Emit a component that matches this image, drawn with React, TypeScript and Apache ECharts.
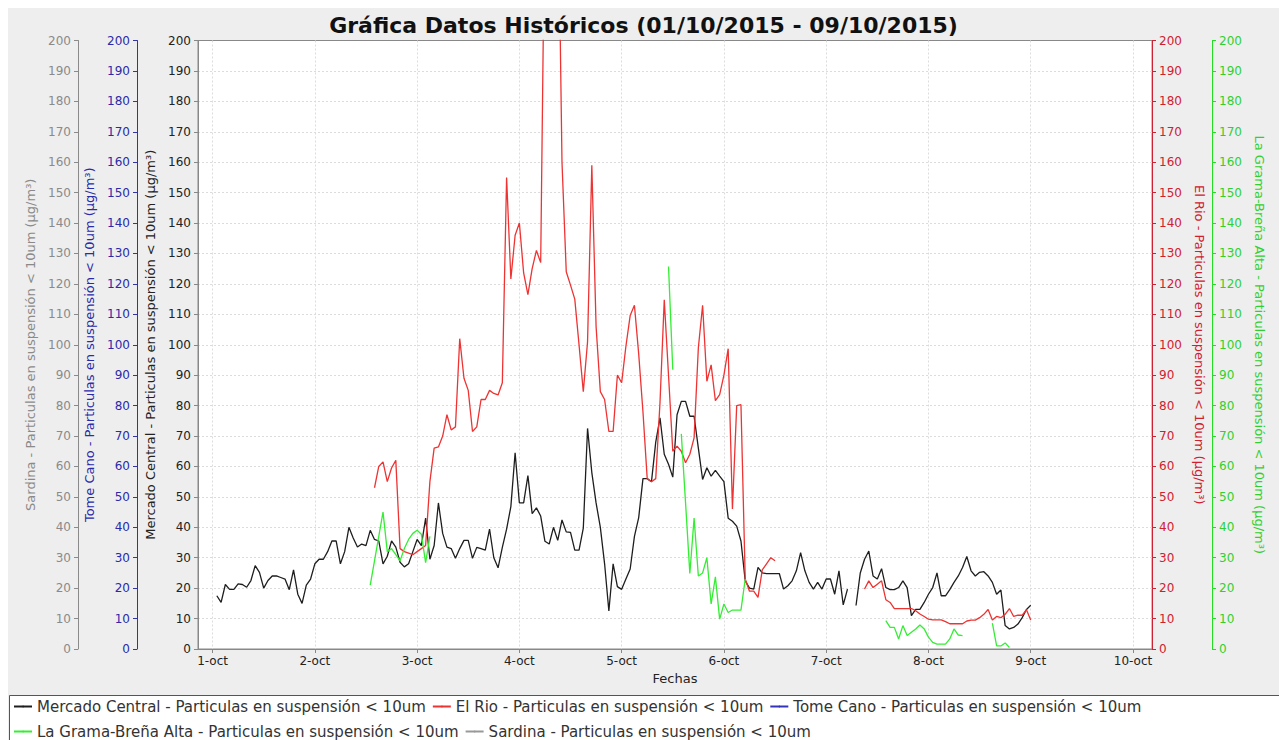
import React, { useEffect, useRef } from "react";
import * as echarts from "echarts";

// ---------- data (hourly values, hour offset from 01/10/2015 00:00) ----------
const HOUR = 3600000;
const BASE = new Date(2015, 9, 1, 0, 0, 0).getTime();
const X_MIN = BASE - 3.42 * HOUR;
const X_MAX = BASE + 9 * 24 * HOUR + 4.46 * HOUR;
const MONTH = "oct";

const titleText = "Gráfica Datos Históricos (01/10/2015 - 09/10/2015)";
const xName = "Fechas";
const suffix = " - Particulas en suspensión < 10um";
const unit = " (µg/m³)";
const stations = ["Mercado Central", "El Rio", "Tome Cano", "La Grama-Breña Alta", "Sardina"];

// Mercado Central
const mercadoAStart = 1;
const mercadoA = [
  17.5, 15.3, 21.2, 19.6, 19.6, 21.4, 21.2, 20.3, 22.5, 27.4,
  25.2, 20, 22.5, 24, 24, 23.5, 23, 19.5, 26, 18,
  15, 21, 23, 28, 29.5, 29.5, 32, 35.5, 35.5, 28,
  32, 40, 36.5, 33.5, 34.5, 34, 39, 36, 35.5, 28,
  30.5, 35.5, 33.5, 28.5, 27, 28, 32, 36, 34, 43,
  29.5, 34, 48, 38, 33.5, 33, 29.8, 33, 35.7, 35.7,
  29.8, 33.4, 33, 32.5, 39.4, 30, 26.7, 33.4, 39.4, 46.8,
  64.5, 48, 48, 57, 44.5, 46.4, 43.7, 35.4, 34.5, 40,
  35.7, 42.4, 38.5, 38.3, 32.5, 32.5, 39.7, 72.5, 58, 48,
  40, 28, 12.5, 28, 20.5, 19.6, 23, 26.3, 37, 43.2,
  56, 56, 55, 68, 76, 64, 60.7, 56.5, 77, 81.4,
  81.4, 76.5, 76.5, 66, 55.7, 59.6, 56.8, 58.7, 56.8, 55,
  43, 42, 40.4, 35.5, 22.4, 20, 19.7, 26.8, 25, 24.8,
  24.8, 24.8, 24.8, 19.7, 20.8, 22.4, 25.7, 31.7, 25.7, 21.9,
  19.7, 21.9, 19.7, 23, 23, 18, 25.7, 14.5, 19.7,
];
const mercadoBStart = 151;
const mercadoB = [
  14.3, 25, 29.5, 32.2, 24, 23, 26.4, 20.2, 19.5, 19.5,
  20.2, 22.4, 20.2, 11, 13, 13, 15.3, 18, 20.2, 25,
  17.5, 17.5, 19.5, 21.9, 24, 26.8, 30.4, 25.7, 24, 25.2,
  25.4, 24, 21.9, 18, 19.4, 7.7, 6.6, 7.1, 8.2, 10.3,
  13, 14.4,
];

// El Rio
const elRioAStart = 38;
const elRioA = [
  53, 60, 61.5, 55, 59.5, 62, 33, 32, 31.5, 31,
  32, 33, 34, 55, 66, 66.4, 70, 77, 72, 73,
  102, 89, 85, 71.5, 73, 82, 82, 85, 84, 83.5,
  87.5, 155, 121.6, 136, 140, 123.6, 116.5, 125, 131, 127,
  250, 290, 280, 260, 160, 124, 119.6, 115, 100, 84.6,
  101, 159, 106, 84.6, 82, 71.5, 71.5, 90, 87.5, 99.5,
  109.6, 113, 97, 78, 56, 55, 56, 81, 114.8, 90,
  65, 66.7, 65, 61.2, 64, 69.4, 99, 113, 88, 93.4,
  81.6, 83.6, 90, 98.7, 46, 80, 80.3, 23, 19, 19,
  17, 26, 28, 30, 29,
];
const elRioBStart = 153;
const elRioB = [
  19.7, 22.4, 20.2, 21.3, 22.4, 16.2, 15.3, 13.3, 13.3, 13.3,
  13.3, 13.3, 12.6, 11.5, 10.7, 9.8, 9.6, 9.6, 9.6, 9,
  8.3, 8.3, 8.3, 8.3, 9.2, 9.5, 9.5, 10.3, 11.4, 13,
  9.5, 10.7, 10.3, 11.4, 13.3, 10.7, 11.1, 11.1, 12.9, 9.5,
];

// La Grama-Breña Alta
const laGramaAStart = 37;
const laGramaA = [21, 29, 37, 45, 32, 33, 31, 29, 33, 36, 38, 39, 37.7, 28.4, 37];
const laGramaBStart = 107;
const laGramaB = [125.7, 91.8];
const laGramaCStart = 110;
const laGramaC = [70.7, 48, 24.8, 43, 24, 25, 30, 14.8, 23.7, 9.8, 14.8, 12, 12.8, 12.8, 12.8, 23];
const laGramaDStart = 158;
const laGramaD = [9.3, 7.1, 7.1, 3.3, 7.7, 4.4, 5.5, 6.6, 7.9, 6.6, 3.9, 2.2, 1.6, 1.6, 1.6, 3.3, 6.6, 4.6, 4.4];
const laGramaEStart = 183;
const laGramaE = [8.5, 1, 1, 2, 0.5];

// Tome Cano and Sardina: no values in the period
const tomeCano: number[] = [];
const sardina: number[] = [];

// ---------- helpers ----------
type Seg = [number, (number | null)[]];
function build(segs: Seg[]) {
  const out: any[] = [];
  segs.forEach(([start, vals], k) => {
    if (k > 0) out.push([BASE + (start - 1) * HOUR, null]);
    vals.forEach((v, i) => out.push([BASE + (start + i) * HOUR, v]));
  });
  return out;
}

const FONT = "DejaVu Sans";
const GRID_COLOR = "#dcdcdc";

function yAxis(
  idx: number,
  position: "left" | "right",
  offset: number,
  lineColor: string,
  textColor: string,
  nameRotate: number
) {
  return {
    type: "value",
    position,
    offset,
    min: 0,
    max: 200,
    interval: 10,
    name: stations[idx] + suffix + unit,
    nameLocation: "middle",
    nameGap: 39,
    nameRotate,
    nameTextStyle: { color: textColor, fontSize: 13, fontFamily: FONT },
    axisLine: { show: true, lineStyle: { color: lineColor, width: 1 } },
    axisTick: { show: true, length: 4, inside: false, lineStyle: { color: lineColor } },
    axisLabel: { color: textColor, fontSize: 12, fontFamily: FONT, margin: 7 },
    splitLine: {
      show: idx === 0,
      showMinLine: false,
      showMaxLine: false,
      lineStyle: { color: GRID_COLOR, type: [2, 2], width: 1 },
    },
  };
}

const COLORS = {
  mercado: "#1e1e1e",
  elRio: "#ee3333",
  tomeCano: "#3333bb",
  laGrama: "#33ee33",
  sardina: "#999999",
};

const legendText = { fontFamily: FONT, fontSize: 15, color: "#333" };
const legendBase = {
  left: 0,
  padding: 5,
  itemWidth: 18,
  itemHeight: 2,
  itemGap: 6,
  textStyle: legendText,
  selectedMode: false,
};

const option: any = {
  animation: false,
  backgroundColor: "#eeeeee",
  title: {
    text: titleText,
    left: "center",
    top: 1,
    textStyle: { fontFamily: FONT, fontSize: 22, fontWeight: "bold", color: "#111" },
  },
  grid: {
    left: 190,
    right: 127,
    top: 32.5,
    bottom: 91,
    show: true,
    backgroundColor: "#ffffff",
    borderColor: "#888888",
    borderWidth: 1,
  },
  xAxis: {
    type: "time",
    min: X_MIN,
    max: X_MAX,
    minInterval: 24 * HOUR,
    maxInterval: 24 * HOUR,
    name: xName,
    nameLocation: "middle",
    nameGap: 22,
    nameTextStyle: { fontFamily: FONT, fontSize: 13, color: "#222" },
    axisLine: { show: true, lineStyle: { color: "#888888" } },
    axisTick: { show: true, length: 4, lineStyle: { color: "#888888" } },
    axisLabel: {
      fontFamily: FONT,
      fontSize: 12,
      color: "#222",
      margin: 6,
      formatter: (val: number) => {
        const d = new Date(val);
        if (d.getHours() !== 0 || d.getMinutes() !== 0) return "";
        return d.getDate() + "-" + MONTH;
      },
    },
    splitLine: {
      show: true,
      showMinLine: false,
      showMaxLine: false,
      lineStyle: { color: GRID_COLOR, type: [2, 2], width: 1 },
    },
  },
  yAxis: [
    yAxis(0, "left", 0, "#888888", "#222222", 90),
    yAxis(2, "left", 61, "#3333aa", "#2a2aaa", 90),
    yAxis(4, "left", 120, "#8a8a8a", "#8a8a8a", 90),
    yAxis(1, "right", 0, "#cc2233", "#d02030", -90),
    yAxis(3, "right", 60, "#22dd22", "#30d030", -90),
  ],
  legend: [
    {
      ...legendBase,
      data: [stations[0] + suffix, stations[1] + suffix, stations[2] + suffix],
      top: 686,
    },
    {
      ...legendBase,
      data: [stations[3] + suffix, stations[4] + suffix],
      top: 711,
    },
  ],
  graphic: [
    {
      type: "rect",
      z: 0,
      silent: true,
      shape: { x: 1.5, y: 687.5, width: 1290, height: 80 },
      style: { fill: "#ffffff", stroke: "#555555", lineWidth: 1 },
    },
  ],
  series: [
    {
      name: stations[0] + suffix,
      type: "line",
      yAxisIndex: 0,
      symbol: "none",
      connectNulls: false,
      lineStyle: { color: COLORS.mercado, width: 1.3 },
      itemStyle: { color: COLORS.mercado },
      data: build([
        [mercadoAStart, mercadoA],
        [mercadoBStart, mercadoB],
      ]),
    },
    {
      name: stations[1] + suffix,
      type: "line",
      yAxisIndex: 3,
      symbol: "none",
      connectNulls: false,
      lineStyle: { color: COLORS.elRio, width: 1.3 },
      itemStyle: { color: COLORS.elRio },
      data: build([
        [elRioAStart, elRioA],
        [elRioBStart, elRioB],
      ]),
    },
    {
      name: stations[2] + suffix,
      type: "line",
      yAxisIndex: 1,
      symbol: "none",
      lineStyle: { color: COLORS.tomeCano, width: 1.3 },
      itemStyle: { color: COLORS.tomeCano },
      data: tomeCano,
    },
    {
      name: stations[3] + suffix,
      type: "line",
      yAxisIndex: 4,
      symbol: "none",
      connectNulls: false,
      lineStyle: { color: COLORS.laGrama, width: 1.3 },
      itemStyle: { color: COLORS.laGrama },
      data: build([
        [laGramaAStart, laGramaA],
        [laGramaBStart, laGramaB],
        [laGramaCStart, laGramaC],
        [laGramaDStart, laGramaD],
        [laGramaEStart, laGramaE],
      ]),
    },
    {
      name: stations[4] + suffix,
      type: "line",
      yAxisIndex: 2,
      symbol: "none",
      lineStyle: { color: COLORS.sardina, width: 1.3 },
      itemStyle: { color: COLORS.sardina },
      data: sardina,
    },
  ],
};

export default function App() {
  const ref = useRef<HTMLDivElement>(null);
  useEffect(() => {
    if (!ref.current) return;
    const chart = echarts.init(ref.current, undefined, { renderer: "svg" });
    chart.setOption(option);
    return () => chart.dispose();
  }, []);
  return (
    <div
      ref={ref}
      style={{ position: "fixed", left: 8, top: 8, width: 1271, height: 732, overflow: "hidden" }}
    />
  );
}
